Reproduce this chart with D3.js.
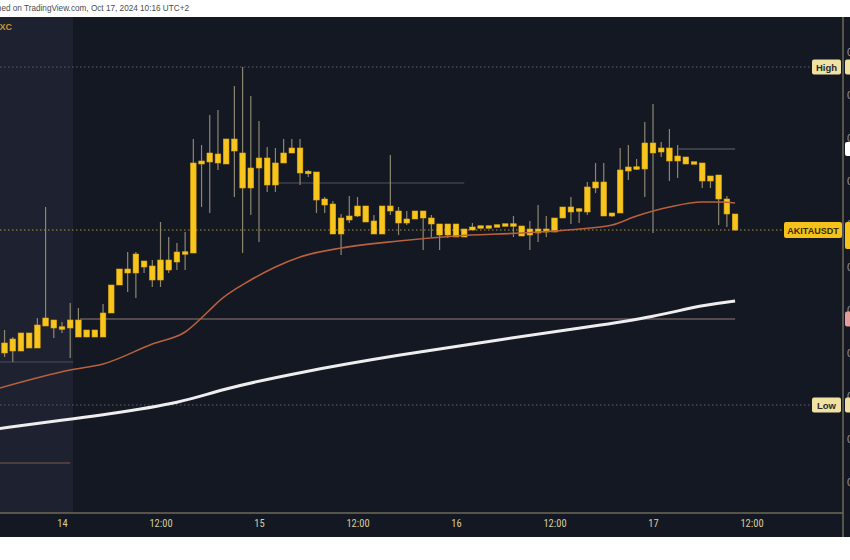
<!DOCTYPE html>
<html><head><meta charset="utf-8">
<script src="https://cdn.jsdelivr.net/npm/d3@7/dist/d3.min.js"></script>
<style>html,body{margin:0;padding:0;background:#fff;overflow:hidden}</style>
</head><body>
<svg id="c" width="850" height="560"></svg>
<script>
// ---- data (prices in chart units, hours relative to Oct 14 00:00) ----
const hours = [-7,-6,-5,-4,-3,-2,-1,0,1,2,3,4,5,6,7,8,9,10,11,12,13,14,15,16,17,18,19,20,21,22,23,24,25,26,27,28,29,30,31,32,33,34,35,36,37,38,39,40,41,42,43,44,45,46,47,48,49,50,51,52,53,54,55,56,57,58,59,60,61,62,63,64,65,66,67,68,69,70,71,72,73,74,75,76,77,78,79,80,81,82];
const open  = [257,249,249,267,252,274,280,271,272,280,263,270,263,287,315,331,327,339,334,320,340,338,346,347,436,438,446,436,461,447,412,432,442,415,437,447,452,427,428,401,396,366,380,384,394,379,366,394,389,377,381,389,382,376,365,376,363,370,372,374,373,374,376,374,365,371,368,368,382,393,389,388,412,418,384,387,429,433,431,457,448,452,439,443,436,437,419,425,401,386];
const high  = [270,263,267,267,282,393,280,278,297,292,270,270,296,315,331,348,348,339,340,378,363,357,368,461,455,485,490,461,514,533,504,479,453,452,461,461,461,430,428,403,399,386,404,403,394,385,394,445,393,389,389,389,385,376,376,376,371,377,374,374,375,376,384,374,379,395,384,382,393,403,392,418,437,437,387,452,455,441,478,496,458,471,455,443,438,437,424,425,404,386];
const low   = [243,238,249,252,252,274,262,267,242,263,263,263,263,287,315,308,302,327,313,313,327,330,330,347,393,387,430,436,403,347,385,358,408,408,437,447,415,423,387,387,366,345,377,383,378,366,366,385,365,375,381,350,363,350,362,363,363,370,372,372,373,374,363,364,350,358,363,368,382,376,377,385,407,384,383,387,420,430,403,367,443,419,422,436,436,412,412,375,373,369];
const close = [247,261,267,252,275,282,272,273,280,263,270,263,287,315,331,327,346,333,320,340,330,348,348,437,439,447,437,461,449,412,432,442,415,437,447,452,427,428,400,395,366,382,384,394,378,366,394,389,377,381,389,382,376,365,376,363,371,373,374,372,375,376,374,364,371,367,371,382,393,388,391,413,418,384,387,430,433,431,457,447,452,439,444,436,438,419,424,401,386,370];

const emaHours  = [-8,1,5,11,15,18,19,23,26,29,34,41,48,56,63,67,70,74,78,80,82];
const emaValues = [211,230,236,256,268,290,298,320,333,343,352,359,364,367,371,375,384,393,398,398,397];
const smaHours  = [-8,1,5,15,19,29,41,53,65,72,78,82];
const smaValues = [171,181,185,198,210,228,245,260,274,283,295,299];

const tickHours  = [0,12,24,36,48,60,72,84];
const tickLabels = ["14","12:00","15","12:00","16","12:00","17","12:00"];
const priceTicks = [548,505,462,419,376,333,290,247,204,161,118];
const priceTickLabels = ["0.00000014","0.00000013","0.00000012","0.00000011","0.00000010","0.000000090","0.000000080","0.000000070","0.000000060","0.000000050","0.000000040"];

const levelValues = [417,451,281,238,137];
const levelStart  = [26.3,75.1,2.2,-8,-8];
const levelEnd    = [49,82,82,1.35,1];
const levelColors = ["#3b3f4c","#4a4d58","#6a5a5e","#3c404d","#5a4848"];

const highValue = 533, lowValue = 195, lastValue = 370;

// ---- scales ----
const t0 = Date.UTC(2024,9,14,0);
const H = 3600e3;
const x = d3.scaleUtc().domain([new Date(t0), new Date(t0+72*H)]).range([62,653]);
const y = d3.scaleLinear().domain([87,583]).range([513,17]);
const tx = h => x(new Date(t0 + h*H));

const svg = d3.select("#c");
svg.append("rect").attr("x",0).attr("y",0).attr("width",850).attr("height",560).attr("fill","#ffffff");
svg.append("text").attr("x",189).attr("y",11).attr("text-anchor","end")
  .attr("font-family","Liberation Sans, Arial, sans-serif").attr("font-size",8.2).attr("fill","#4a4a4a")
  .text("Published on TradingView.com, Oct 17, 2024 10:16 UTC+2");
svg.append("rect").attr("x",0).attr("y",17).attr("width",850).attr("height",520).attr("fill","#141823");
svg.append("rect").attr("x",0).attr("y",17).attr("width",73).attr("height",496).attr("fill","#1e2230");

svg.append("text").attr("x",12).attr("y",30).attr("text-anchor","end")
  .attr("font-family","Liberation Sans, Arial, sans-serif").attr("font-size",9).attr("font-weight","bold")
  .attr("fill","#c8962e").text("MEXC");

levelValues.forEach((v,i)=>{
  svg.append("line").attr("x1",Math.max(0,tx(levelStart[i]))).attr("x2",tx(levelEnd[i]))
    .attr("y1",y(v)).attr("y2",y(v)).attr("stroke",levelColors[i]).attr("stroke-width",1.5);
});
[[highValue,"#5d606b"],[lowValue,"#5d606b"],[lastValue,"#a88f3a"]].forEach(([v,c])=>{
  svg.append("line").attr("x1",0).attr("x2",811).attr("y1",y(v)).attr("y2",y(v))
    .attr("stroke",c).attr("stroke-width",1).attr("stroke-dasharray","1.5,2.5");
});

const step = tx(1)-tx(0);
const bw = step*0.68;
const g = svg.append("g");
hours.forEach((h,i)=>{
  const cx = tx(h);
  g.append("line").attr("x1",cx).attr("x2",cx).attr("y1",y(high[i])).attr("y2",y(low[i]))
    .attr("stroke","#8d8772").attr("stroke-width",1.2);
  const top = y(Math.max(open[i],close[i])), bot = y(Math.min(open[i],close[i]));
  const hh = Math.max(2.5, bot-top);
  g.append("rect").attr("x",cx-bw/2).attr("y",(top+bot)/2-hh/2).attr("width",bw).attr("height",hh)
    .attr("fill","#f7c51e").attr("stroke","#e2a90f").attr("stroke-width",0.6);
});

const lineBasis = d3.line().x(d=>tx(d[0])).y(d=>y(d[1])).curve(d3.curveBasis);
const lineMono = d3.line().x(d=>tx(d[0])).y(d=>y(d[1])).curve(d3.curveMonotoneX);
svg.append("path").datum(smaHours.map((h,i)=>[h,smaValues[i]])).attr("d",lineBasis)
  .attr("fill","none").attr("stroke","#eeeeee").attr("stroke-width",3);
svg.append("path").datum(emaHours.map((h,i)=>[h,emaValues[i]])).attr("d",lineMono)
  .attr("fill","none").attr("stroke","#b9603c").attr("stroke-width",1.6);

const yAxis = d3.axisRight(y).tickValues(priceTicks).tickFormat((d,i)=>priceTickLabels[i]).tickSize(0).tickPadding(4);
const ya = svg.append("g").attr("transform","translate(843,0)").call(yAxis);
ya.select(".domain").remove();
ya.selectAll("text").attr("fill","#9598a1").attr("font-size",11).attr("font-family","Liberation Sans, Arial, sans-serif");

const xAxis = d3.axisBottom(x).tickValues(tickHours.map(h=>new Date(t0+h*H))).tickFormat((d,i)=>tickLabels[i]).tickSize(0).tickPadding(7);
const xa = svg.append("g").attr("transform","translate(0,513)").call(xAxis);
xa.select(".domain").remove();
xa.selectAll("text").attr("fill","#d8cd9a").attr("font-size",10.5)
  .attr("font-family","Liberation Sans Narrow, Roboto Condensed, Liberation Sans, sans-serif");

svg.append("line").attr("x1",0).attr("x2",843).attr("y1",513).attr("y2",513).attr("stroke","#6e6a58").attr("stroke-width",1.5);
svg.append("line").attr("x1",843).attr("x2",843).attr("y1",17).attr("y2",537).attr("stroke","#6e6a58").attr("stroke-width",1.5);

function tag(xl, w, v, hgt, fill, txt, tc, fs){
  svg.append("rect").attr("x",xl).attr("y",y(v)-hgt/2).attr("width",w).attr("height",hgt).attr("rx",2).attr("fill",fill);
  if(txt) svg.append("text").attr("x",xl+w/2).attr("y",y(v)+3.5).attr("text-anchor","middle")
    .attr("font-family","Liberation Sans, Arial, sans-serif").attr("font-size",fs).attr("font-weight","bold").attr("fill",tc).text(txt);
}
tag(812,29,highValue,15,"#efe2a2","High","#2a2a2a",9.5);
tag(845,10,highValue,15,"#efe2a2");
tag(812,29,lowValue,15,"#efe2a2","Low","#2a2a2a",9.5);
tag(845,10,lowValue,15,"#efe2a2");
tag(784,58,lastValue,16,"#f5c21b","AKITAUSDT","#3a2c00",9);
svg.append("rect").attr("x",845).attr("y",y(lastValue)-8).attr("width",10).attr("height",27).attr("rx",2).attr("fill","#f5c21b");
tag(845,10,451,14,"#ffffff");
tag(845,10,281,15,"#e89b9b");
</script>
</body></html>
